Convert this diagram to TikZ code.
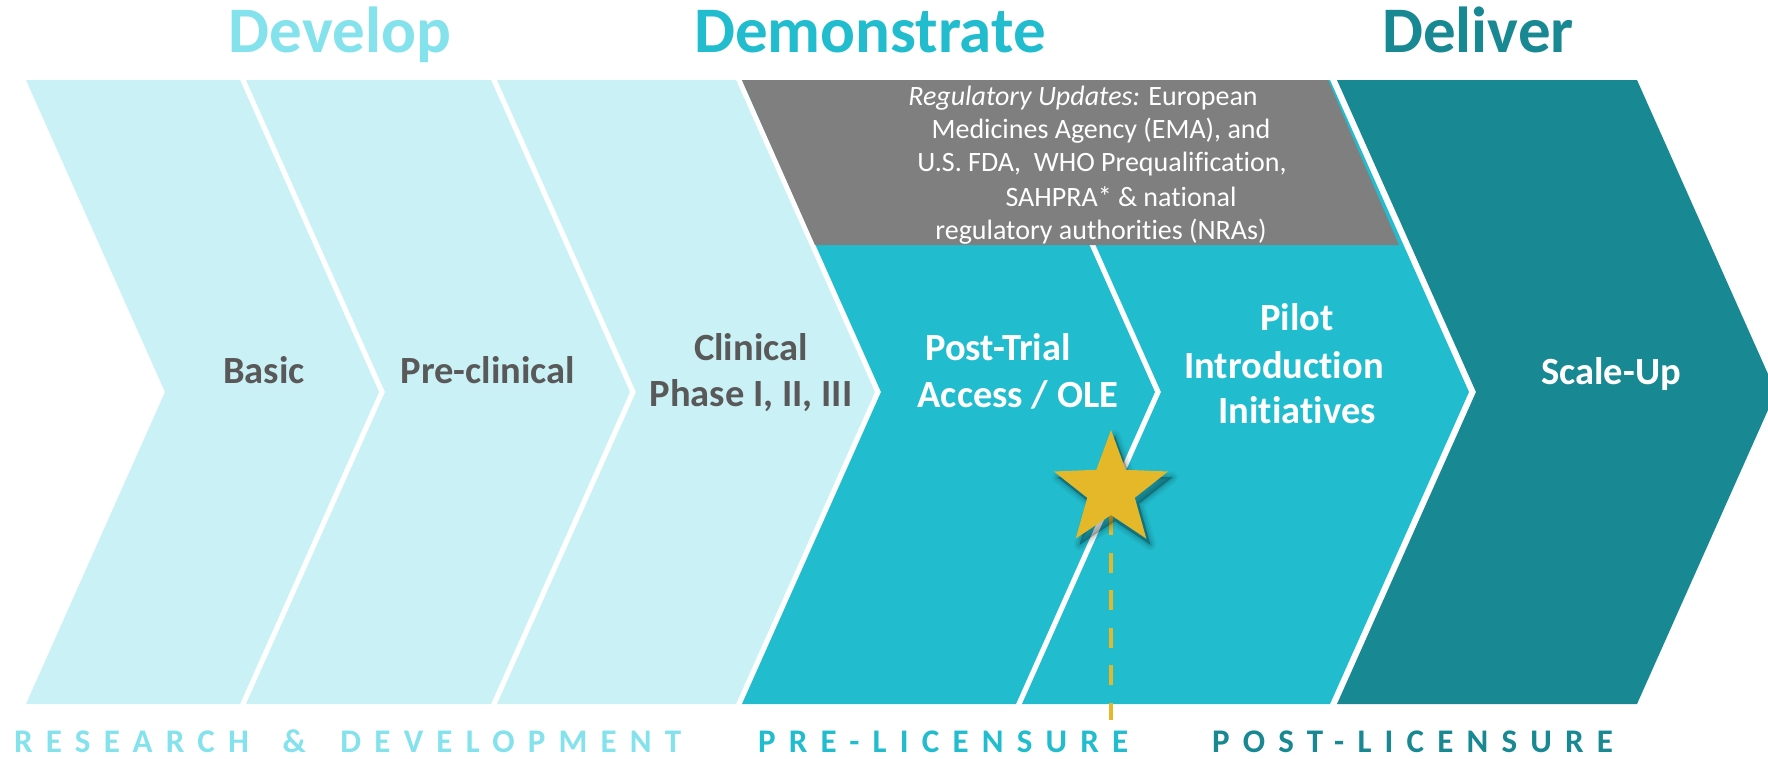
\documentclass[tikz,border=0pt]{standalone}
\usepackage{fontspec}
\setmainfont{Carlito}[Ligatures={NoCommon}]
\newfontfamily\spacedfont{Carlito}[LetterSpace=40, Ligatures={NoCommon}]

\definecolor{paleCyan}{HTML}{CAF1F6}
\definecolor{titleCyan}{HTML}{83E2EC}
\definecolor{midCyan}{HTML}{21BDCE}
\definecolor{deepTeal}{HTML}{188892}
\definecolor{bandGray}{HTML}{7F7F7F}
\definecolor{inkGray}{HTML}{595959}
\definecolor{starGold}{HTML}{E4B829}

% one chevron: left x and right x of its top/bottom edges
\newcommand\chevron[3][]{%
  \fill[#1] (#2,80) -- (#3,80) -- ({#3+139},392) -- (#3,704) -- (#2,704) -- ({#2+139},392) -- cycle;}

\tikzset{
  pics/goldstar/.style={code={
    \path[pic actions] (-90:60) -- (-54:25) -- (-18:60) -- (18:25) -- (54:60)
      -- (90:25) -- (126:60) -- (162:25) -- (198:60) -- (234:25) -- cycle;}},
  headline/.style={font=\fontsize{65}{78}\selectfont\bfseries, anchor=base, inner sep=0pt},
  stage/.style={font=\fontsize{38.5}{46}\selectfont\bfseries, anchor=base, inner sep=0pt},
  darkstage/.style={stage, text=inkGray},
  lightstage/.style={stage, text=white},
  regtext/.style={font=\fontsize{28}{34}\selectfont, text=white, anchor=base, inner sep=0pt},
  phaselabel/.style={font=\spacedfont\fontsize{33}{40}\selectfont\bfseries, anchor=base west, inner sep=0pt},
}

\begin{document}
\begin{tikzpicture}[x=1pt, y=-1pt]
\useasboundingbox (0,0) rectangle (1768,758);
\clip (0,0) rectangle (1768,758);
\fill[white] (0,0) rectangle (1768,758);

% stage titles
\node[headline, text=titleCyan] (develop) at (340,52.7) {Develop};
\node[headline, text=midCyan] (demonstrate) at (870,52.7) {Demonstrate};
\node[headline, text=deepTeal] (deliver) at (1478,52.7) {Deliver};

% chevron band
\chevron[paleCyan]{26}{240}
\chevron[paleCyan]{246}{491}
\chevron[paleCyan]{497}{736}
\chevron[midCyan]{742}{1016}
\chevron[midCyan]{1022}{1330}
\chevron[deepTeal]{1337}{1637}

% regulatory band across the top of the demonstrate chevrons
\fill[bandGray] (742,80) -- (1328,80) -- (1399,245) -- (815,245) -- cycle;

\node[regtext] (reg1) at (1083,105) {\textit{Regulatory Updates:} European};
\node[regtext] (reg2) at (1101,138) {Medicines Agency (EMA), and};
\node[regtext] (reg3) at (1102,171) {U.S. FDA,\ \ WHO Prequalification,};
\node[regtext] (reg4) at (1121,206) {SAHPRA* \& national};
\node[regtext] (reg5) at (1101,239) {regulatory authorities (NRAs)};

% chevron labels
\node[darkstage] (basic) at (264,383) {Basic};
\node[darkstage] (precl) at (488,383) {Pre-clinical};
\node[darkstage] (clin1) at (751,360) {Clinical};
\node[darkstage] (clin2) at (751,406.7) {Phase I, II, III};
\node[lightstage] (post1) at (998,360) {Post-Trial};
\node[lightstage] (post2) at (1018,407) {Access / OLE};
\node[lightstage] (pilot1) at (1297,330) {Pilot};
\node[lightstage] (pilot2) at (1284,378) {Introduction};
\node[lightstage] (pilot3) at (1297,423) {Initiatives};
\node[lightstage] (scale) at (1611,384) {Scale-Up};

% licensure milestone
\coordinate (starc) at (1111,490);
\coordinate (starfoot) at (1111,515);
\coordinate (lineend) at (1111,720);
\draw[starGold, line width=4.5pt, dash pattern=on 20pt off 17.5pt] (starfoot) -- (lineend);
\foreach \w/\o in {12/0.04, 8/0.06, 4/0.08, 0.5/0.10}
  \pic[fill=black, draw=black, opacity=\o, line width=\w pt, line join=round,
       xshift=4pt, yshift=-6pt] at (starc) {goldstar};
\pic[fill=starGold] at (starc) {goldstar};

% phase labels along the bottom
\node[phaselabel, text=titleCyan] (rnd) at (14,752) {RESEARCH\hspace{13pt} \&\hspace{14pt} DEVELOPMENT};
\node[phaselabel, text=midCyan] (prelic) at (758,752) {PRE-LICENSURE};
\node[phaselabel, text=deepTeal] (postlic) at (1212,752) {POST-LICENSURE};
\end{tikzpicture}
\end{document}
